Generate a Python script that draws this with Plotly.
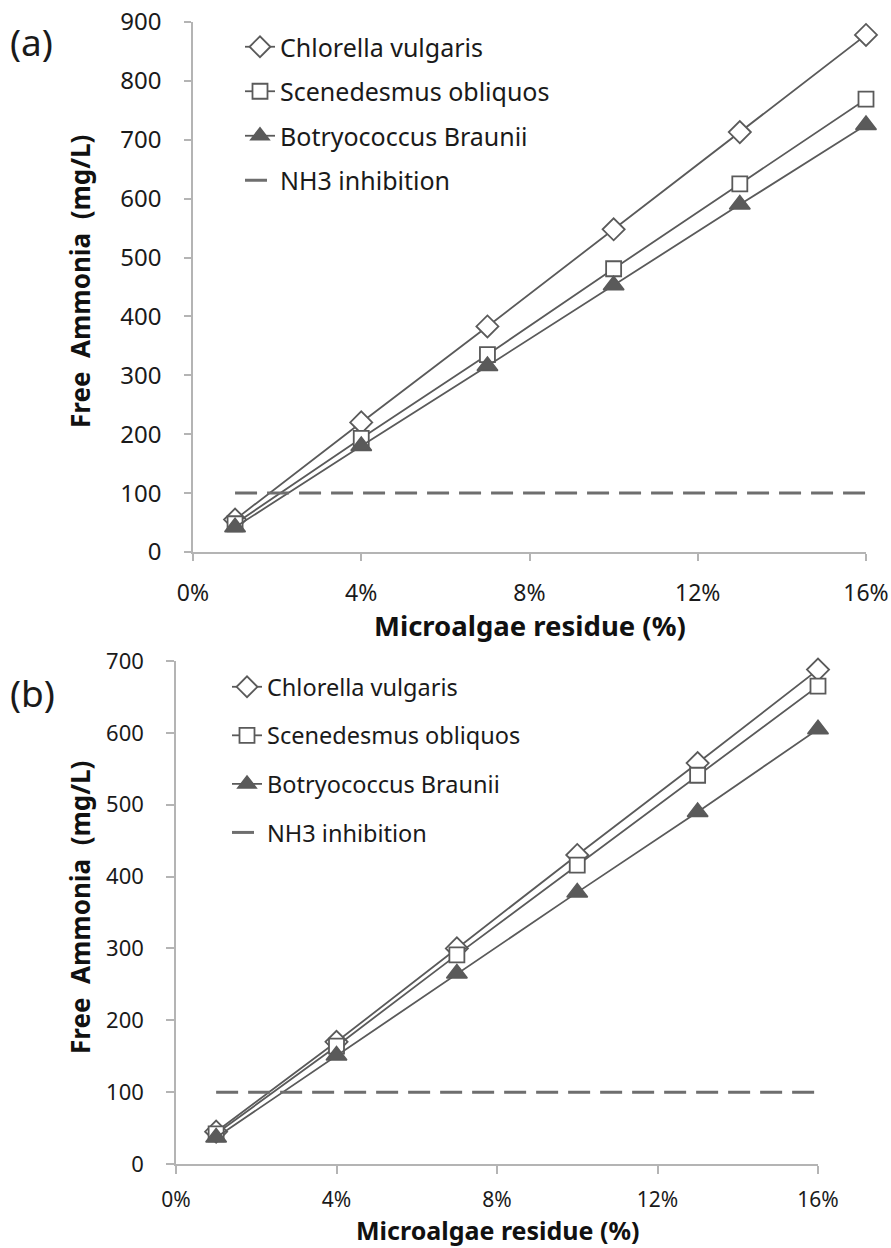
import plotly.graph_objects as go

# ---- data ----
x_pct = [0.01, 0.04, 0.07, 0.10, 0.13, 0.16]
names = ["Chlorella vulgaris", "Scenedesmus obliquos", "Botryococcus Braunii"]

a_chlorella = [55, 220, 383, 548, 713, 878]
a_scenedesmus = [48, 193, 335, 481, 625, 769]
a_botryococcus = [42, 180, 316, 453, 590, 725]

b_chlorella = [45, 170, 300, 430, 558, 688]
b_scenedesmus = [42, 164, 291, 416, 541, 665]
b_botryococcus = [37, 151, 265, 378, 490, 605]

inhib_x = [0.01, 0.16]
inhib_y = [100, 100]
inhib_name = "NH3 inhibition"

x_tickvals = [0, 0.04, 0.08, 0.12, 0.16]
x_ticktext = ["0%", "4%", "8%", "12%", "16%"]

# ---- styles ----
GRAY = "#5a5a5a"
FONT = "Noto Sans"
TXT = "#1a1a1a"
styles = [
    dict(symbol="diamond", size=17, color="white", line=dict(color=GRAY, width=1.8)),
    dict(symbol="square", size=15, color="white", line=dict(color=GRAY, width=1.8)),
    dict(symbol="triangle-up", size=18, color=GRAY, line=dict(color=GRAY, width=1.5)),
]

fig = go.Figure()

def add_panel(series, xa, ya, legend):
    for i, (nm, ys) in enumerate(zip(names, series)):
        fig.add_trace(go.Scatter(
            x=x_pct, y=ys, name=nm, mode="lines+markers",
            line=dict(color=GRAY, width=1.8), marker=styles[i], cliponaxis=False,
            xaxis=xa, yaxis=ya, legend=legend, legendgroup=legend + str(i)))
    fig.add_trace(go.Scatter(
        x=inhib_x, y=inhib_y, name=inhib_name, mode="lines",
        line=dict(color="#6e6e6e", width=3, dash="22px,10px"), cliponaxis=False,
        xaxis=xa, yaxis=ya, legend=legend, legendgroup=legend + "3"))

add_panel([a_chlorella, a_scenedesmus, a_botryococcus], "x", "y", "legend")
add_panel([b_chlorella, b_scenedesmus, b_botryococcus], "x2", "y2", "legend2")

W, H = 891, 1248

def px_x(p):
    return p / W

def px_y(p):
    return 1 - p / H

def axis_style(size, standoff, ticklen):
    return dict(
        showgrid=False, zeroline=False, showline=True, linecolor="#b4b4b4", linewidth=1.5,
        ticks="outside", ticklen=ticklen, tickcolor="#b4b4b4", tickwidth=1.5,
        automargin=False, ticklabelstandoff=standoff,
        tickfont=dict(family=FONT, size=size, color=TXT),
    )

fig.update_layout(
    width=W, height=H,
    margin=dict(l=0, r=0, t=0, b=0, pad=0, autoexpand=False),
    paper_bgcolor="white", plot_bgcolor="white",
    xaxis=dict(domain=[px_x(193), px_x(866)], range=[0, 0.16], anchor="y",
               tickvals=x_tickvals, ticktext=x_ticktext, **axis_style(23, 13, 7)),
    yaxis=dict(domain=[px_y(552), px_y(22)], range=[0, 900], dtick=100, anchor="x",
               **axis_style(24, 18, 7)),
    xaxis2=dict(domain=[px_x(176), px_x(818)], range=[0, 0.16], anchor="y2",
                tickvals=x_tickvals, ticktext=x_ticktext, **axis_style(21, 8, 8)),
    yaxis2=dict(domain=[px_y(1164), px_y(661)], range=[0, 700], dtick=100, anchor="x2",
                **axis_style(22, 18, 8)),
    legend=dict(x=px_x(240), y=px_y(24), xanchor="left", yanchor="top",
                font=dict(family=FONT, size=25, color=TXT),
                bgcolor="rgba(0,0,0,0)", tracegroupgap=9),
    legend2=dict(x=px_x(227), y=px_y(665), xanchor="left", yanchor="top",
                 font=dict(family=FONT, size=23.5, color=TXT),
                 bgcolor="rgba(0,0,0,0)", tracegroupgap=15),
    showlegend=True,
)

NB = "\u00a0"
ytitle = "<b>Free" + NB * 2 + "Ammonia" + NB * 2 + "(mg/L)</b>"
xtitle = "<b>Microalgae residue (%)</b>"
ann = [
    dict(text="(a)", x=px_x(8), y=px_y(42), xanchor="left", yanchor="middle",
         font=dict(family=FONT, size=37, color=TXT)),
    dict(text="(b)", x=px_x(8), y=px_y(692), xanchor="left", yanchor="middle",
         font=dict(family=FONT, size=37, color=TXT)),
    dict(text=ytitle, x=px_x(80), y=px_y(282), textangle=-90, xanchor="center", yanchor="middle",
         font=dict(family=FONT, size=26, color="#111111")),
    dict(text=ytitle, x=px_x(80), y=px_y(908), textangle=-90, xanchor="center", yanchor="middle",
         font=dict(family=FONT, size=26, color="#111111")),
    dict(text=xtitle, x=px_x(530), y=px_y(625), xanchor="center", yanchor="middle",
         font=dict(family=FONT, size=27.5, color="#111111")),
    dict(text=xtitle, x=px_x(497), y=px_y(1230), xanchor="center", yanchor="middle",
         font=dict(family=FONT, size=25, color="#111111")),
]
for a in ann:
    a.update(xref="paper", yref="paper", showarrow=False)
fig.update_layout(annotations=ann)

fig.write_html("out.html", config={"displayModeBar": False},
               post_script="document.body.style.margin='0px';document.body.style.overflow='hidden';")
